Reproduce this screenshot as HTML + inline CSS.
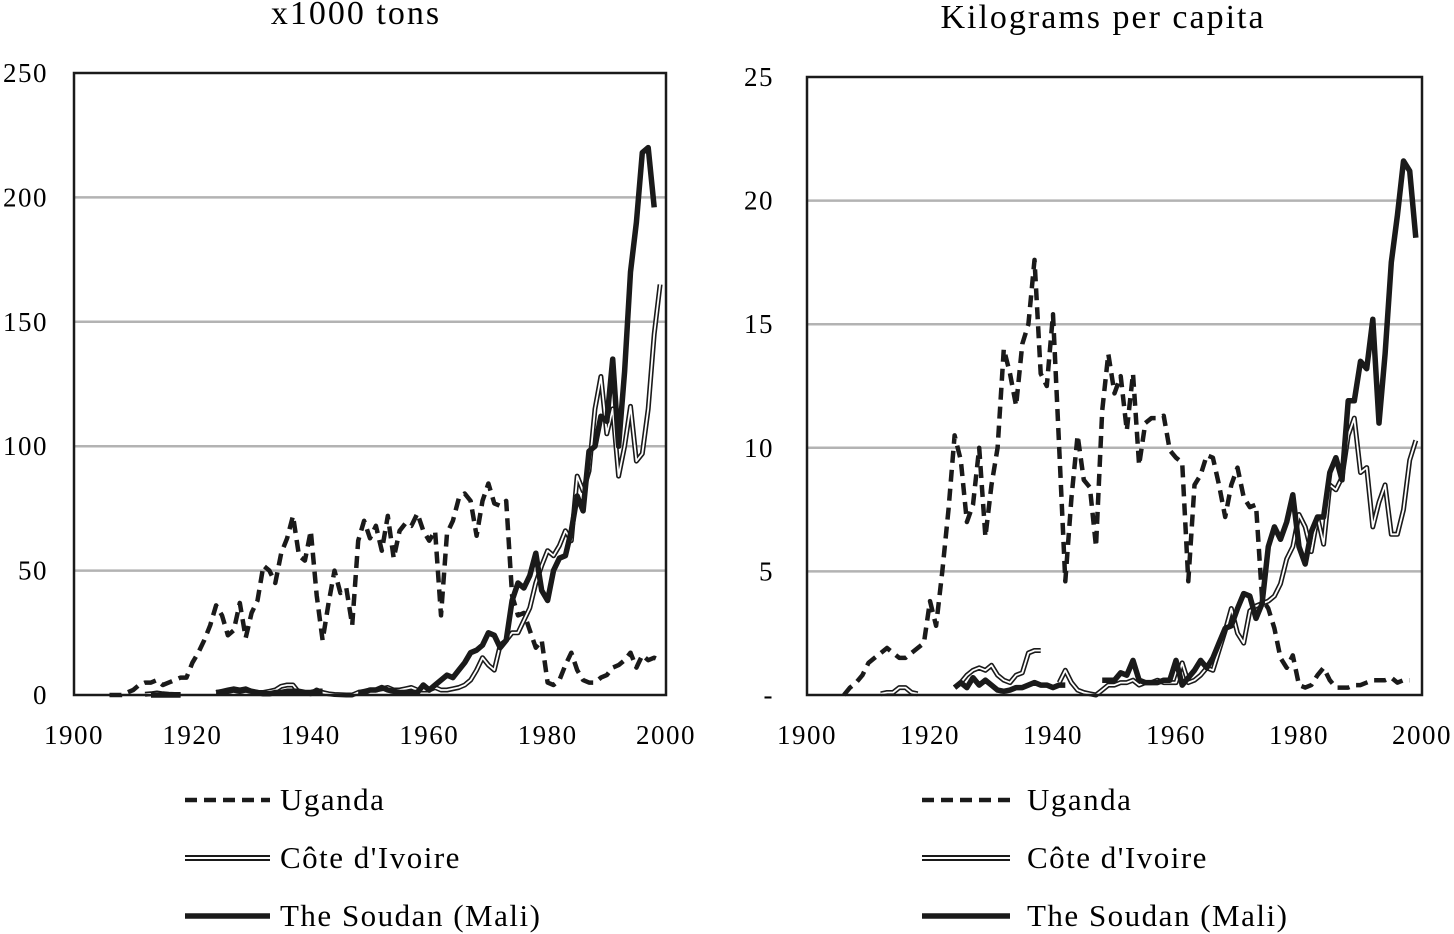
<!DOCTYPE html>
<html><head><meta charset="utf-8">
<style>
html,body{margin:0;padding:0;background:#fff;}
svg{display:block;font-family:"Liberation Serif",serif;}
</style></head>
<body>
<svg id="chart" width="1454" height="934" viewBox="0 0 1454 934" xmlns="http://www.w3.org/2000/svg">
<text x="356" y="24" font-size="34" letter-spacing="2" text-anchor="middle">x1000 tons</text>
<text x="1103" y="28" font-size="34" letter-spacing="2" text-anchor="middle">Kilograms per capita</text>
<g id="left"></g>
<g id="right"></g>
</svg>
<script>
// ---- data (left: x1000 tons) ----
const xTicks = [1900, 1920, 1940, 1960, 1980, 2000];
const leftYTicks = [0, 50, 100, 150, 200, 250];
const leftYLabels = ["0", "50", "100", "150", "200", "250"];
const rightYTicks = [0, 5, 10, 15, 20, 25];
const rightYLabels = ["-", "5", "10", "15", "20", "25"];
const seriesNames = ["Uganda", "Côte d'Ivoire", "The Soudan (Mali)"];

const ugTonsStart = 1906;
const ugTons = [0,0,0,1,2,4,5,5,6,4,5,6,7,7,13,17,22,28,36,32,24,26,37,23,33,38,52,50,45,57,63,72,56,54,66,40,22,37,50,41,43,28,62,70,63,68,58,72,55,66,69,68,73,66,62,66,32,65,70,79,81,78,64,78,85,77,76,78,40,32,33,26,19,22,5,4,6,12,17,10,6,5,5,7,8,11,12,14,17,11,16,14,15,14];
const ciTonsStart = 1912;
const ciTons = [0.3,0.5,0.8,0.5,0.3,0.2,0.2,null,null,null,null,null,1,1.5,2,2.5,2,2.5,1.5,1,1,1.5,2,3.5,4,4,1,1,0.5,2,1,0.5,0.2,0.1,0,0,1,1.5,2,2,2.5,3,2,2,2.5,3,2,2,2,3,2,2,2.5,3,4,6,10,15,12,10,20,22,25,25,30,35,45,52,58,56,60,66,62,88,82,90,115,128,105,115,88,100,116,94,97,115,145,165];
const maTonsStart = 1913;
const maTons = [0,0,0,0,0,0,null,null,null,null,null,1,1,1.5,2,1.5,2,1.5,1,0.5,0.5,1,1,1.5,1.5,1.5,1,1,1.5,1.5,null,null,null,null,null,1,1,2,2,3,2,1.5,1,1,1,1,4,2,4,6,8,7,10,13,17,18,20,25,24,19,22,38,45,43,48,57,42,38,50,55,56,66,80,74,98,100,112,110,135,100,130,170,190,218,220,196];

// ---- data (right: kg per capita) ----
const ugKgStart = 1906;
const ugKg = [0,0.3,0.5,0.8,1.3,1.5,1.7,1.9,1.7,1.5,1.5,1.7,1.9,2.1,3.8,2.8,5,7.5,10.5,9.5,7,7.7,10,6.4,8.5,10,14,13,11.7,14.2,15,17.6,13,12.5,15.4,10,4.6,8,10.5,8.7,8.4,6,11.5,13.8,12.2,12.9,10.7,13,9.3,11,11.2,11.2,11.3,9.9,9.6,9.4,4.6,8.5,8.9,9.7,9.6,8.5,7.2,8.5,9.2,8,7.6,7.7,3.9,3.5,2.7,1.5,1.1,1.6,0.4,0.3,0.4,0.8,1.1,0.6,0.3,0.3,0.3,0.4,0.4,0.5,0.6,0.6,0.6,0.7,0.5,0.6,0.6];
const ciKgStart = 1912;
const ciKg = [0.05,0.1,0.1,0.3,0.3,0.1,0.05,null,null,null,null,null,0.3,0.5,0.8,1.0,1.1,1.0,1.2,0.8,0.6,0.5,0.8,0.9,1.7,1.8,1.8,null,null,0.5,1.0,0.5,0.2,0.1,0.05,0,0.2,0.4,0.4,0.5,0.5,0.6,0.4,0.5,0.5,0.6,0.5,0.5,0.5,1.3,0.5,0.6,0.8,1.1,1.0,1.8,2.6,3.5,2.5,2.1,3.4,3.6,3.7,3.8,4.0,4.5,5.5,6.0,7.3,6.8,5.8,7.2,6.1,8.5,8.3,8.8,10.5,11.2,9.0,9.2,6.8,7.8,8.5,6.5,6.5,7.5,9.5,10.3];
const maKgStart = 1924;
const maKg = [0.3,0.5,0.3,0.7,0.4,0.6,0.4,0.2,0.15,0.2,0.3,0.3,0.4,0.5,0.4,0.4,0.3,0.4,0.4,null,null,null,null,null,0.6,0.6,0.6,0.9,0.8,1.4,0.6,0.5,0.5,0.5,0.6,0.6,1.4,0.4,0.7,1.0,1.4,1.1,1.5,2.1,2.7,2.8,3.5,4.1,4.0,3.1,3.7,6.0,6.8,6.3,7.0,8.1,6.0,5.3,6.6,7.2,7.2,9.0,9.6,8.7,11.9,11.9,13.5,13.2,15.2,11.0,13.8,17.5,19.4,21.6,21.2,18.5];

const NS = "http://www.w3.org/2000/svg";
function mk(tag, attrs, parent){const e=document.createElementNS(NS,tag);for(const k in attrs)e.setAttribute(k,attrs[k]);parent.appendChild(e);return e;}

function drawChart(g, box, yMax, yTicks, yLabels, series, legend, prefix, yLabelGap){
  const xS = y => box.x0 + (y-1900)/100*(box.x1-box.x0);
  const yS = v => box.y1 - v/yMax*(box.y1-box.y0);
  yTicks.forEach((t,i)=>{
    if(t>0 && t<yMax){
      const l=mk('line',{x1:box.x0,x2:box.x1,y1:yS(t),y2:yS(t),stroke:'#b3b3b3','stroke-width':2.5},g);
      
      
    }
    const tx=mk('text',{x:box.x0-yLabelGap,y:yS(t)+9,'font-size':27,'letter-spacing':1.5,'text-anchor':'end'},g);
    tx.textContent=yLabels[i];
    
    
  });
  xTicks.forEach(t=>{
    const tx=mk('text',{x:xS(t),y:box.y1+49,'font-size':27,'letter-spacing':1.5,'text-anchor':'middle'},g);
    tx.textContent=String(t);
    
    
  });
  series.forEach(s=>{
    const segs=[];let cur=[];
    s.values.forEach((v,i)=>{
      if(v===null){if(cur.length)segs.push(cur);cur=[];}
      else cur.push([xS(s.start+i),yS(v)]);
    });
    if(cur.length)segs.push(cur);
    const d=segs.filter(c=>c.length>1).map(c=>'M'+c.map(p=>p[0].toFixed(1)+','+p[1].toFixed(1)).join('L')).join('');
    if(s.kind==='dash'){
      const p=mk('path',{d:d,fill:'none',stroke:'#1a1a1a','stroke-width':4.5,'stroke-dasharray':'12 7','stroke-linejoin':'round'},g);
      
      
    } else if(s.kind==='double'){
      const p=mk('path',{d:d,fill:'none',stroke:'#1a1a1a','stroke-width':5,'stroke-linejoin':'round'},g);
      
      
      const p2=mk('path',{d:d,fill:'none',stroke:'#fff','stroke-width':1.8,'stroke-linejoin':'round'},g);
      
      
    } else {
      const p=mk('path',{d:d,fill:'none',stroke:'#1a1a1a','stroke-width':5.5,'stroke-linejoin':'round'},g);
      
      
    }
  });
  const fr=mk('rect',{x:box.x0,y:box.y0,width:box.x1-box.x0,height:box.y1-box.y0,fill:'none',stroke:'#1a1a1a','stroke-width':2.5},g);
  
  
  series.forEach((s,i)=>{
    const y=800+i*58;
    const lg=mk('g',{},g);
    
    
    const d='M'+legend.lx0+','+y+'L'+legend.lx1+','+y;
    if(s.kind==='dash') mk('path',{d:d,stroke:'#1a1a1a','stroke-width':4.5,'stroke-dasharray':'12 7'},lg);
    else if(s.kind==='double'){mk('path',{d:d,stroke:'#1a1a1a','stroke-width':6},lg);mk('path',{d:d,stroke:'#fff','stroke-width':2},lg);}
    else mk('path',{d:d,stroke:'#1a1a1a','stroke-width':5.5},lg);
    const t=mk('text',{x:legend.tx,y:y+10,'font-size':31,'letter-spacing':1.5},lg);
    t.textContent=seriesNames[i];
  });
}

drawChart(document.getElementById('left'),{x0:74,x1:666,y0:73,y1:695},250,leftYTicks,leftYLabels,[
  {id:'uganda',kind:'dash',start:ugTonsStart,values:ugTons},
  {id:'cote-divoire',kind:'double',start:ciTonsStart,values:ciTons},
  {id:'mali',kind:'solid',start:maTonsStart,values:maTons}
],{lx0:185,lx1:270,tx:280},'left',26);

drawChart(document.getElementById('right'),{x0:807,x1:1422,y0:77,y1:695},25,rightYTicks,rightYLabels,[
  {id:'uganda',kind:'dash',start:ugKgStart,values:ugKg},
  {id:'cote-divoire',kind:'double',start:ciKgStart,values:ciKg},
  {id:'mali',kind:'solid',start:maKgStart,values:maKg}
],{lx0:922,lx1:1010,tx:1027},'right',33);
</script>
</body></html>
